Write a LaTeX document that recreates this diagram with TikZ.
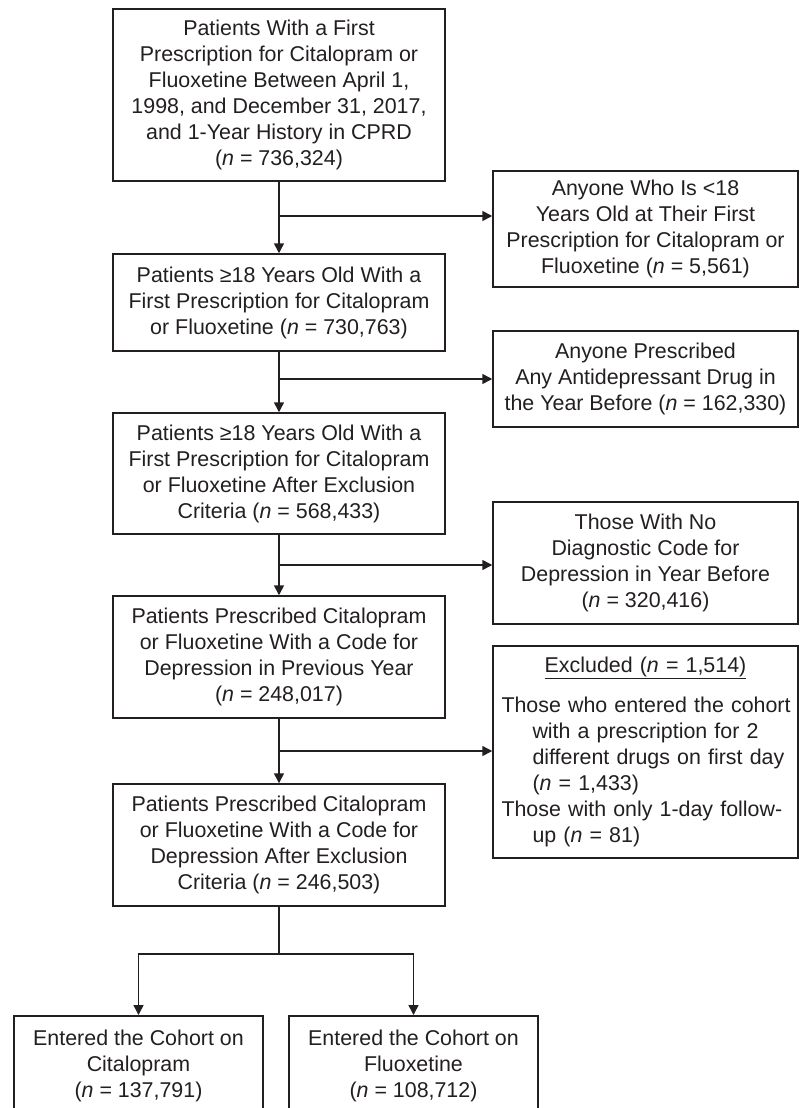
\documentclass[tikz,border=0pt]{standalone}
\usepackage{fontspec}
\setmainfont{Liberation Sans}
\usetikzlibrary{arrows.meta,calc}
\definecolor{ink}{HTML}{231F20}
\tikzset{
  box/.style={draw=ink, line width=1.5pt, text=ink, inner sep=0pt, align=center,
    font=\fontsize{21.4}{26}\selectfont},
  mainbox/.style={box, minimum width=332pt},
  sidebox/.style={box, minimum width=305pt},
  endbox/.style={box, minimum width=249pt, minimum height=100pt, anchor=north},
  link/.style={draw=ink, line width=1.5pt},
  arr/.style={link, -{Triangle[length=10pt,width=10pt]}}
}
\begin{document}
\begin{tikzpicture}[x=1pt,y=-1pt]
\clip (0,0) rectangle (801,1108);
\fill[white] (0,0) rectangle (801,1108);

% main column
\node[mainbox, minimum height=172pt] (b1) at (279,95)
  {Patients With a First\\Prescription for Citalopram or\\Fluoxetine Between April 1,\\1998, and December 31, 2017,\\and 1-Year History in CPRD\\(\textit{n} = 736,324)};
\node[mainbox, minimum height=97pt] (b2) at (279,302.5)
  {Patients ≥18 Years Old With a\\First Prescription for Citalopram\\or Fluoxetine (\textit{n} = 730,763)};
\node[mainbox, minimum height=121pt] (b3) at (279,473.5)
  {Patients ≥18 Years Old With a\\First Prescription for Citalopram\\or Fluoxetine After Exclusion\\Criteria (\textit{n} = 568,433)};
\node[mainbox, minimum height=122pt] (b4) at (279,657)
  {Patients Prescribed Citalopram\\or Fluoxetine With a Code for\\Depression in Previous Year\\(\textit{n} = 248,017)};
\node[mainbox, minimum height=122pt] (b5) at (279,845)
  {Patients Prescribed Citalopram\\or Fluoxetine With a Code for\\Depression After Exclusion\\Criteria (\textit{n} = 246,503)};

% side boxes
\node[sidebox, minimum height=116pt] (r1) at (645.5,229)
  {Anyone Who Is <18\\Years Old at Their First\\Prescription for Citalopram or\\Fluoxetine (\textit{n} = 5,561)};
\node[sidebox, minimum height=96pt] (r2) at (645.5,379)
  {Anyone Prescribed\\Any Antidepressant Drug in\\the Year Before (\textit{n} = 162,330)};
\node[sidebox, minimum height=122pt] (r3) at (645.5,563)
  {Those With No\\Diagnostic Code for\\Depression in Year Before\\(\textit{n} = 320,416)};
\node[sidebox, minimum height=212pt, align=left, text width=300pt] (r4) at (645.5,752)
  {\hspace*{6pt}\makebox[288pt][c]{\underline{Excluded (\textit{n} = 1,514)}}\\[14pt]
   \hspace*{6pt}Those who entered the cohort\\
   \hspace*{37pt}with a prescription for 2\\
   \hspace*{37pt}different drugs on first day\\
   \hspace*{37pt}(\textit{n} = 1,433)\\
   \hspace*{6pt}Those with only 1-day follow-\\
   \hspace*{37pt}up (\textit{n} = 81)};

% bottom boxes
\node[endbox] (cl) at (138.5,1015)
  {Entered the Cohort on\\Citalopram\\(\textit{n} = 137,791)};
\node[endbox] (fl) at (413.5,1015)
  {Entered the Cohort on\\Fluoxetine\\(\textit{n} = 108,712)};

% junctions
\coordinate (j1) at (279,216);
\coordinate (j2) at (279,379);
\coordinate (j3) at (279,565);
\coordinate (j4) at (279,751);
\coordinate (s)  at (279,954);

% connectors
\draw[arr] (b1) -- (b2);
\draw[arr] (b2) -- (b3);
\draw[arr] (b3) -- (b4);
\draw[arr] (b4) -- (b5);
\draw[arr] (j1) -- (r1.west |- j1);
\draw[arr] (j2) -- (r2.west |- j2);
\draw[arr] (j3) -- (r3.west |- j3);
\draw[arr] (j4) -- (r4.west |- j4);
\draw[link] (b5) -- (s);
\draw[arr] (s) -| (cl);
\draw[arr] (s) -| (fl);
\end{tikzpicture}
\end{document}
